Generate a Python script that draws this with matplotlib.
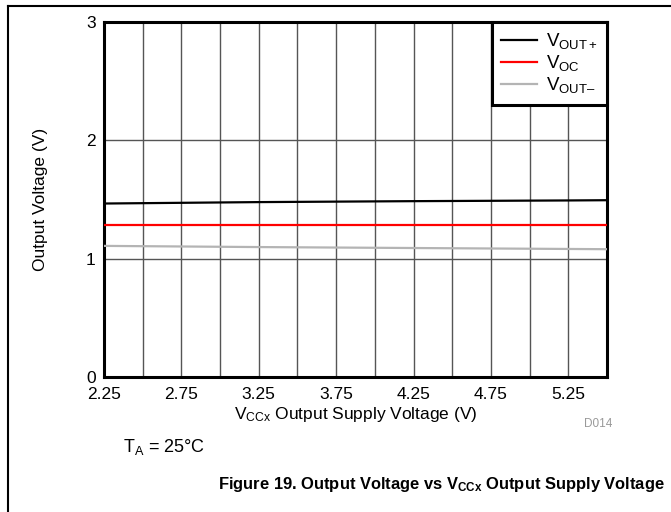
import matplotlib
matplotlib.use("Agg")
import matplotlib.pyplot as plt
from matplotlib.lines import Line2D
from matplotlib.ticker import MultipleLocator, FixedLocator

plt.rcParams['font.family'] = ['Liberation Sans', 'DejaVu Sans']
plt.rcParams['mathtext.fontset'] = 'custom'
plt.rcParams['mathtext.rm'] = 'Liberation Sans'
plt.rcParams['mathtext.it'] = 'Liberation Sans'
plt.rcParams['mathtext.bf'] = 'Liberation Sans:bold'

supply_v = [2.25, 2.75, 3.25, 3.75, 4.25, 4.75, 5.25, 5.5]
vout_pos = [1.466, 1.472, 1.478, 1.482, 1.486, 1.489, 1.492, 1.494]
voc = [1.287, 1.287, 1.287, 1.287, 1.287, 1.287, 1.287, 1.287]
vout_neg = [1.108, 1.103, 1.098, 1.094, 1.090, 1.086, 1.082, 1.080]
series_labels = [r'V$_{\mathrm{OUT+}}$', r'V$_{\mathrm{OC}}$', r'V$_{\mathrm{OUT–}}$']
x_ticks = [2.25, 2.75, 3.25, 3.75, 4.25, 4.75, 5.25]
y_ticks = [0, 1, 2, 3]

fig = plt.figure(figsize=(6.71, 5.12), dpi=100)
ax = fig.add_axes([104/671, 1-377/512, (607-104)/671, (377-22)/512])

ax.plot(supply_v, vout_pos, color='black', lw=1.6, label=series_labels[0], zorder=3)
ax.plot(supply_v, voc, color='#ff0000', lw=1.6, label=series_labels[1], zorder=3)
ax.plot(supply_v, vout_neg, color='#b4b4b4', lw=1.6, label=series_labels[2], zorder=3)

ax.set_xlim(2.25, 5.5)
ax.set_ylim(0, 3)
ax.xaxis.set_major_locator(FixedLocator(x_ticks))
ax.xaxis.set_minor_locator(MultipleLocator(0.25))
ax.yaxis.set_major_locator(FixedLocator(y_ticks))
ax.set_xticklabels([f'{v:.2f}' for v in x_ticks])
ax.tick_params(axis='both', which='both', length=0, labelsize=12.5, colors='black')
ax.tick_params(axis='x', pad=7.5)
ax.tick_params(axis='y', pad=6)
ax.grid(True, which='both', axis='x', color='#555555', lw=1.0)
ax.grid(True, which='major', axis='y', color='#555555', lw=1.0)
ax.set_axisbelow(True)
for s in ax.spines.values():
    s.set_linewidth(2.2)
    s.set_color('black')

ax.set_xlabel(r'V$_{\mathrm{CCx}}$ Output Supply Voltage (V)', fontsize=12.5, labelpad=1.5)
ax.set_ylabel('Output Voltage (V)', fontsize=12.5, labelpad=27)

leg = ax.legend(loc='upper right', fontsize=13.5, frameon=True, fancybox=False,
                borderaxespad=0, handlelength=1.9, handletextpad=0.5,
                labelspacing=0.1, borderpad=0.5)
leg.get_frame().set_edgecolor('black')
leg.get_frame().set_linewidth(2.2)
leg.get_frame().set_alpha(1)

fig.text(598/671, 1-424/512, 'D014', fontsize=8.5, color='#999999', ha='center', va='center')
fig.text(123/671, 1-447/512, r'T$_{\mathrm{A}}$ = 25°C', fontsize=13, ha='left', va='center')
fig.text(441/671, 1-484/512,
         r'Figure 19. Output Voltage vs V$_{\mathbf{CCx}}$ Output Supply Voltage',
         fontsize=11.9, fontweight='bold', ha='center', va='center')

# outer frame (left and top edges)
fig.add_artist(Line2D([8/671, 8/671], [0, 1-6/512], transform=fig.transFigure, color='black', lw=1.5))
fig.add_artist(Line2D([8/671, 1], [1-6/512, 1-6/512], transform=fig.transFigure, color='black', lw=1.5))

fig.savefig('out.png', dpi=100)
